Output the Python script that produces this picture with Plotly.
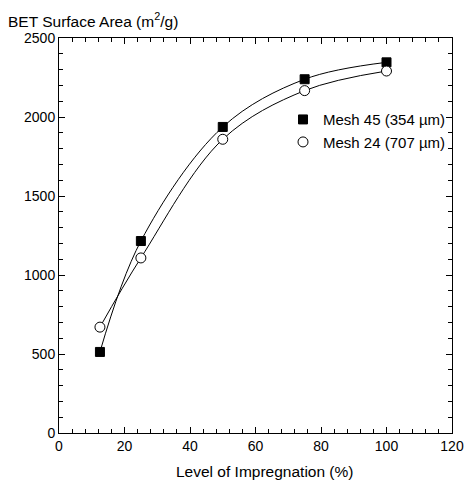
import plotly.graph_objects as go

impregnation = [12.5, 25, 50, 75, 100]
mesh45 = [513, 1215, 1937, 2239, 2346]
mesh24 = [670, 1108, 1859, 2167, 2291]
x_ticks = [0, 20, 40, 60, 80, 100, 120]
y_ticks = [0, 500, 1000, 1500, 2000, 2500]
names = ["Mesh 45 (354 \u00b5m)", "Mesh 24 (707 \u00b5m)"]

font = "Liberation Sans, Arial, sans-serif"

m45 = dict(symbol="square", size=9, color="black", line=dict(color="black", width=1))
m24 = dict(symbol="circle", size=10, color="white", line=dict(color="black", width=1))

fig = go.Figure()
fig.add_trace(go.Scatter(
    x=impregnation, y=mesh45, mode="lines+markers", name=names[0], showlegend=False,
    line=dict(color="black", width=1, shape="spline", smoothing=1.0), marker=m45,
))
fig.add_trace(go.Scatter(
    x=impregnation, y=mesh24, mode="lines+markers", name=names[1], showlegend=False,
    line=dict(color="black", width=1, shape="spline", smoothing=1.0), marker=m24,
))
# legend entries (markers only, as in the reference)
fig.add_trace(go.Scatter(x=[None], y=[None], mode="markers", name=names[0], marker=m45))
fig.add_trace(go.Scatter(x=[None], y=[None], mode="markers", name=names[1], marker=m24))

axis_common = dict(
    showgrid=False, zeroline=False, showline=True, linecolor="black", linewidth=1,
    mirror="allticks", ticks="inside", ticklen=6, tickcolor="black", tickwidth=1,
    tickfont=dict(family=font, size=14, color="black"), automargin=False,
    minor=dict(ticks="inside", ticklen=4, tickcolor="black", tickwidth=1),
)

fig.update_xaxes(range=[0, 120], tickvals=x_ticks, minor_dtick=4, **axis_common)
fig.update_yaxes(range=[0, 2500], tickvals=y_ticks, minor_dtick=100, **axis_common)

fig.add_annotation(text="Level of Impregnation (%)", xref="paper", yref="paper",
                   x=0.524, y=-0.097, xanchor="center", yanchor="middle", showarrow=False,
                   font=dict(family=font, size=15.5, color="black"))
fig.add_annotation(text="BET Surface Area (m<sup>2</sup>/g)", xref="paper", yref="paper",
                   x=-0.135, y=1.016, xanchor="left", yanchor="bottom", showarrow=False,
                   font=dict(family=font, size=15.5, color="black"))

fig.update_layout(
    width=466, height=480,
    margin=dict(l=59, r=14, t=38, b=47),
    plot_bgcolor="white", paper_bgcolor="white",
    showlegend=True,
    legend=dict(x=0.57, y=0.835, xanchor="left", yanchor="top", bgcolor="rgba(0,0,0,0)",
                font=dict(family=font, size=15, color="black"), itemwidth=30, tracegroupgap=0),
)

fig.write_html("out.html")
